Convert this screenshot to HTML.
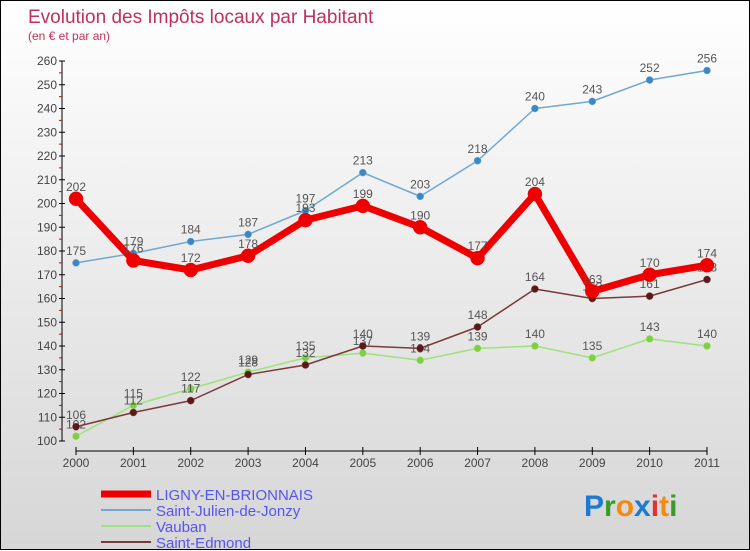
<!DOCTYPE html>
<html><head><meta charset="utf-8">
<style>
html,body{margin:0;padding:0}
body{width:750px;height:550px;overflow:hidden;font-family:"Liberation Sans",sans-serif}
#wrap{position:relative;width:748px;height:548px;border:1px solid #000;background:linear-gradient(#ffffff,#d6d6d6)}
svg{position:absolute;left:0;top:0}
</style></head><body>
<div id="wrap">
<svg id="chart" width="750" height="550">
<text x="27" y="22" font-size="19" fill="#c0305a">Evolution des Impôts locaux par Habitant</text>
<text x="27" y="39" font-size="12" fill="#c0305a">(en € et par an)</text>
<g id="axes"></g>
<g id="series"></g>
<g id="legend"></g>
<g font-size="30" font-weight="bold" font-family="'Liberation Sans',sans-serif">
<text x="583" y="515"><tspan fill="#1a7ad4">P</tspan><tspan fill="#3a9a2a">r</tspan><tspan fill="#f08a10">o</tspan><tspan fill="#1a7ad4">x</tspan><tspan fill="#e03030">i</tspan><tspan fill="#f08a10">t</tspan><tspan fill="#3a9a2a">i</tspan></text>
</g>
</svg>
</div>
<script>
const years=[2000,2001,2002,2003,2004,2005,2006,2007,2008,2009,2010,2011];
const yTicks=[100,110,120,130,140,150,160,170,180,190,200,210,220,230,240,250,260];
const ligny=[202,176,172,178,193,199,190,177,204,163,170,174];
const stJulien=[175,179,184,187,197,213,203,218,240,243,252,256];
const vauban=[102,115,122,129,135,137,134,139,140,135,143,140];
const stEdmond=[106,112,117,128,132,140,139,148,164,160,161,168];
const NS="http://www.w3.org/2000/svg";
function xS(i){return 75+i*(706-75)/11;}
function yS(v){return 440-(v-100)*(380/160);}
function mk(tag,attrs,parent){const e=document.createElementNS(NS,tag);for(const k in attrs)e.setAttribute(k,attrs[k]);parent.appendChild(e);return e;}
const axes=document.getElementById('axes');
let yl=mk('line',{x1:61,y1:yS(260),x2:61,y2:yS(100),stroke:'#000','stroke-width':1},axes);


yTicks.forEach(v=>{
  mk('line',{x1:58,y1:yS(v),x2:64,y2:yS(v),stroke:'#000'},axes);
  if(v<260)mk('line',{x1:58,y1:yS(v+5),x2:61,y2:yS(v+5),stroke:'#d00'},axes);
  const t=mk('text',{x:56,y:yS(v)+4,'font-size':12,fill:'#444','text-anchor':'end'},axes);
  t.textContent=v;
  
  
});
let xl=mk('line',{x1:xS(0),y1:450,x2:xS(11),y2:450,stroke:'#000','stroke-width':1},axes);


years.forEach((y,i)=>{
  mk('line',{x1:xS(i),y1:446,x2:xS(i),y2:454,stroke:'#000'},axes);
  const t=mk('text',{x:xS(i),y:466,'font-size':12,fill:'#444','text-anchor':'middle'},axes);
  t.textContent=y;
  
  
});
const ser=document.getElementById('series');
function draw(vals,color,dot,w,r,name){
  const g=mk('g',{},ser);
  
  
  mk('polyline',{points:vals.map((v,i)=>xS(i)+','+yS(v)).join(' '),fill:'none',stroke:color,'stroke-width':w,'stroke-linejoin':'round'},g);
  vals.forEach((v,i)=>{
    const c=mk('circle',{cx:xS(i),cy:yS(v),r:r,fill:dot,stroke:color,'stroke-width':0.5},g);
    
    
    const t=mk('text',{x:xS(i),y:yS(v)-8,'font-size':12,fill:'#555','text-anchor':'middle'},g);
    t.textContent=v;
    
    
  });
}
draw(vauban,'#9ee27a','#7ed040',1.5,3.5,'vauban-series');
draw(stEdmond,'#7a3a3a','#5a1a1a',1.5,3.5,'saint-edmond-series');
draw(stJulien,'#70a8d0','#3a88c8',1.5,3.5,'saint-julien-series');
draw(ligny,'#ee0000','#ee0000',7,7,'ligny-series');
const lg=document.getElementById('legend');
const items=[['LIGNY-EN-BRIONNAIS','#ee0000',7],['Saint-Julien-de-Jonzy','#70a8d0',2],['Vauban','#9ee27a',2],['Saint-Edmond','#7a3a3a',2]];
items.forEach((it,k)=>{
  const y=493+k*16;
  const g=mk('g',{},lg);
  
  
  mk('line',{x1:100,y1:y,x2:150,y2:y,stroke:it[1],'stroke-width':it[2]},g);
  const t=mk('text',{x:155,y:y+6,'font-size':15,fill:'#5555ee'},g);
  t.textContent=it[0];
});
</script>
</body></html>
